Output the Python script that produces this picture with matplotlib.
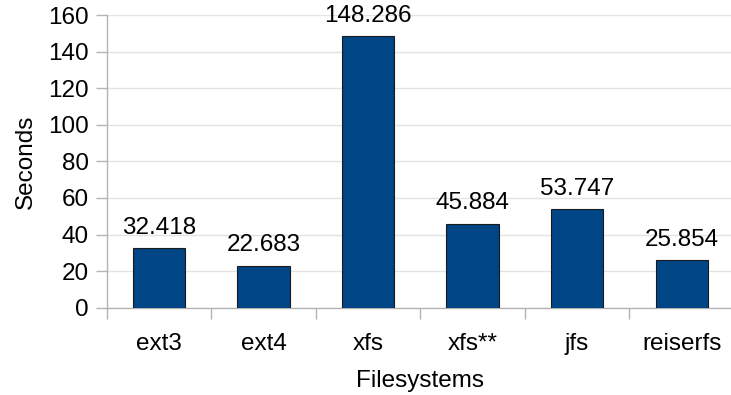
import matplotlib
matplotlib.use('Agg')
from matplotlib import pyplot as plt
import numpy as np

filesystems = ['ext3', 'ext4', 'xfs', 'xfs**', 'jfs', 'reiserfs']
seconds = [32.418, 22.683, 148.286, 45.884, 53.747, 25.854]
y_ticks = [0, 20, 40, 60, 80, 100, 120, 140, 160]

plt.rcParams['font.family'] = ['Liberation Sans', 'DejaVu Sans']
FS = 17.5

fig = plt.figure(figsize=(7.31, 3.95), dpi=100)
ax = fig.add_axes([0.146, 0.221, 0.858, 0.741])

x = np.arange(len(filesystems))
ax.bar(x, seconds, width=0.5, color='#004586', edgecolor='#1a1a1a', linewidth=0.8, zorder=3)

for xi, v in zip(x, seconds):
    ax.annotate(f'{v:.3f}', (xi, v), xytext=(0, 7), textcoords='offset points',
                ha='center', va='bottom', fontsize=FS, color='black')

ax.set_xlim(-0.5, len(filesystems) - 0.5)
ax.set_ylim(0, 160)
ax.set_yticks(y_ticks)
ax.yaxis.grid(True, color='#e3e3e3', linewidth=1, zorder=0)

ax.set_xticks(x)
ax.set_xticklabels(filesystems, fontsize=FS)
ax.set_xticks(np.arange(len(filesystems) + 1) - 0.5, minor=True)
ax.tick_params(axis='x', which='major', length=0, pad=18)
ax.tick_params(axis='x', which='minor', length=8, width=1, color='#b3b3b3')
ax.tick_params(axis='y', length=8, width=1, color='#b3b3b3', labelsize=FS, pad=5)

for side in ['top', 'right']:
    ax.spines[side].set_visible(False)
for side in ['left', 'bottom']:
    ax.spines[side].set_color('#b3b3b3')
    ax.spines[side].set_linewidth(1)

ax.set_xlabel('Filesystems', fontsize=FS, labelpad=11)
ax.set_ylabel('Seconds', fontsize=FS, labelpad=8)

fig.savefig('out.png', dpi=100)
